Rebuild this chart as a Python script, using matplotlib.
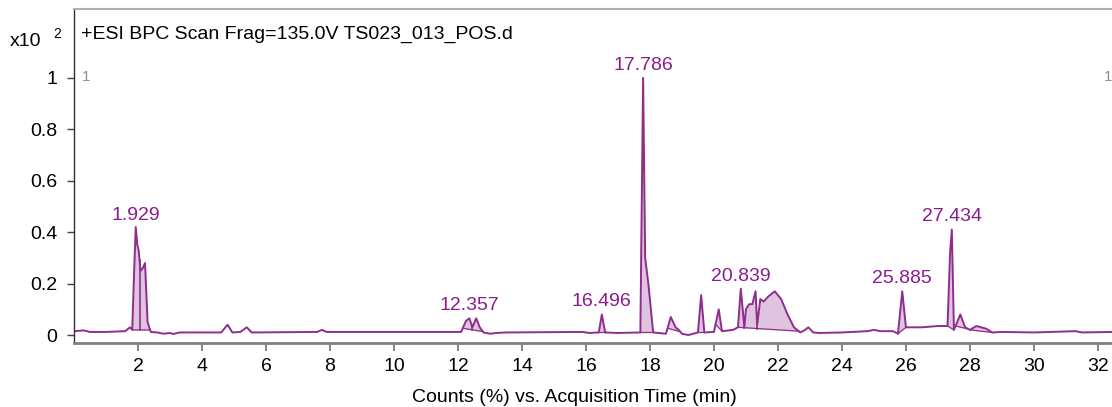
import numpy as np
import matplotlib.pyplot as plt

# BPC trace (time in min, counts x10^2 %)
times = [0.0, 0.3, 0.5, 1.0, 1.6, 1.75, 1.82, 1.88, 1.93, 1.98, 2.02, 2.08, 2.15, 2.22, 2.3,
         2.4, 2.6, 2.8, 3.0, 3.1, 3.3, 4.6, 4.8, 4.95, 5.2, 5.4, 5.55, 7.6, 7.75, 7.9,
         12.1, 12.25, 12.357, 12.45, 12.57, 12.68, 12.8, 13.0, 13.2, 13.5, 15.9, 16.1, 16.4,
         16.496, 16.6, 17.0, 17.7, 17.786, 17.85, 17.95, 18.1, 18.5, 18.65, 18.8, 18.9,
         19.0, 19.2, 19.5, 19.6, 19.7, 20.0, 20.15, 20.25, 20.6, 20.75, 20.839, 20.95,
         21.0, 21.1, 21.2, 21.3, 21.35, 21.45, 21.55, 21.7, 21.9, 22.0, 22.1, 22.3, 22.5,
         22.7, 22.85, 22.95, 23.1, 23.3, 24.0, 24.8, 25.0, 25.2, 25.6, 25.75, 25.885, 26.0,
         26.5, 27.0, 27.3, 27.38, 27.434, 27.5, 27.7, 27.85, 28.0, 28.2, 28.5, 28.7, 29.0,
         30.0, 31.3, 31.5, 32.5]
counts = [0.015, 0.018, 0.012, 0.012, 0.015, 0.03, 0.02, 0.25, 0.42, 0.35, 0.33, 0.25, 0.26, 0.28, 0.05,
          0.012, 0.01, 0.005, 0.008, 0.004, 0.01, 0.01, 0.04, 0.01, 0.012, 0.03, 0.01, 0.012, 0.02, 0.012,
          0.012, 0.055, 0.065, 0.03, 0.065, 0.03, 0.01, 0.005, 0.008, 0.01, 0.012, 0.008, 0.01,
          0.08, 0.01, 0.008, 0.01, 1.0, 0.3, 0.2, 0.01, 0.005, 0.07, 0.03, 0.02,
          0.005, 0.0, 0.01, 0.155, 0.01, 0.012, 0.1, 0.015, 0.02, 0.03, 0.18, 0.03,
          0.10, 0.12, 0.12, 0.17, 0.04, 0.14, 0.13, 0.15, 0.17, 0.155, 0.14, 0.08, 0.03,
          0.01, 0.02, 0.03, 0.01, 0.008, 0.01, 0.015, 0.02, 0.015, 0.015, 0.005, 0.17, 0.03,
          0.03, 0.035, 0.035, 0.32, 0.41, 0.02, 0.08, 0.03, 0.02, 0.035, 0.025, 0.01, 0.012,
          0.01, 0.015, 0.01, 0.012]

# integrated peak groups: (start, end, drop-line positions inside)
windows = [(1.82, 2.38, [2.05]), (12.15, 12.78, [12.45]), (16.4, 16.6, []),
           (17.7, 18.1, []), (18.55, 18.95, []), (19.5, 19.7, []), (20.05, 20.25, []),
           (20.75, 22.65, [20.95, 21.35]), (25.75, 26.0, []), (27.3, 27.5, []),
           (27.55, 27.95, []), (28.0, 28.7, [])]

peak_labels = ["1.929", "12.357", "16.496", "17.786", "20.839", "25.885", "27.434"]
peak_times = [1.929, 12.357, 16.496, 17.786, 20.839, 25.885, 27.434]

line_color = "#8e2d8e"
fill_color = "#dfc4df"
label_color = "#8c1c8c"

plt.rcParams['font.family'] = ['Liberation Sans', 'DejaVu Sans']

fig = plt.figure(figsize=(11.12, 4.07), dpi=100)
ax = fig.add_axes([74 / 1112, 64 / 407, 1 - 74 / 1112, 334 / 407])

t = np.array(times)
y = np.array(counts)
fine_t = np.linspace(0, 32.5, 8000)
fine_y = np.interp(fine_t, t, y)

for a, b, drops in windows:
    m = (fine_t >= a) & (fine_t <= b)
    ya, yb = np.interp(a, t, y), np.interp(b, t, y)
    base = ya + (yb - ya) * (fine_t[m] - a) / (b - a)
    ax.fill_between(fine_t[m], base, np.maximum(fine_y[m], base), color=fill_color, lw=0)
    ax.plot([a, b], [ya, yb], color=line_color, lw=0.9)
    for d in drops:
        yd = ya + (yb - ya) * (d - a) / (b - a)
        ax.plot([d, d], [yd, np.interp(d, t, y)], color=line_color, lw=1.2)

ax.plot(t, y, color=line_color, lw=1.4)

for lab, pt in zip(peak_labels, peak_times):
    h = np.interp(pt, t, y)
    ax.annotate(lab, (pt, h), xytext=(0, 3), textcoords="offset points",
                ha="center", va="bottom", color=label_color, fontsize=14)

ax.set_xlim(0.0, 32.44)
ax.set_ylim(-0.031, 1.268)
ax.set_xticks(np.arange(2, 33, 2))
ax.set_yticks([0, 0.2, 0.4, 0.6, 0.8, 1])
ax.set_yticklabels(["0", "0.2", "0.4", "0.6", "0.8", "1"])
ax.tick_params(axis="x", length=6, width=1.2, color="#707070", labelsize=14, pad=5)
ax.tick_params(axis="y", length=5, width=1, color="#404040", labelsize=14, pad=7)

ax.spines["right"].set_visible(False)
ax.spines["bottom"].set_color("#808080")
ax.spines["bottom"].set_linewidth(2)
ax.spines["left"].set_color("#303030")
ax.spines["left"].set_linewidth(1)
ax.spines["top"].set_color("#b0b0b0")
ax.spines["top"].set_linewidth(1.5)

ax.text(0.007, 0.925, "+ESI BPC Scan Frag=135.0V TS023_013_POS.d", transform=ax.transAxes,
        fontsize=14, va="center", ha="left")
ax.text(0.008, 0.795, "1", transform=ax.transAxes, fontsize=11, color="#909090", va="center")
ax.text(1.0, 0.795, "1", transform=ax.transAxes, fontsize=11, color="#909090", va="center",
        ha="right")

fig.text(10 / 1112, 1 - 41 / 407, "x10", fontsize=14, va="center", ha="left")
fig.text(53 / 1112, 1 - 34 / 407, "2", fontsize=10, va="center", ha="left")
fig.text(574 / 1112, 1 - 397 / 407, "Counts (%) vs. Acquisition Time (min)", fontsize=14,
         ha="center", va="center")

fig.savefig("out.png", dpi=100)
